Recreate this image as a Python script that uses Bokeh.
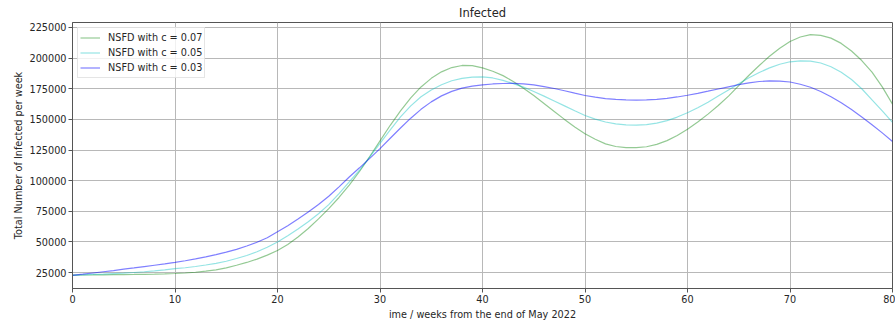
from bokeh.plotting import figure
from bokeh.models import Range1d, Legend, LegendItem, FixedTicker, BasicTickFormatter
from bokeh.embed import file_html
from bokeh.resources import INLINE

weeks = list(range(0, 81))

nsfd_007 = [23000, 23050, 23100, 23200, 23300, 23400, 23500, 23650, 23800, 24000,
            24300, 24700, 25300, 26200, 27300, 28900, 31000, 33300, 36000, 39300,
            43000, 48000, 54000, 61000, 68800, 77200, 86300, 96400, 107500, 119700,
            132500, 145200, 157000, 167500, 176500, 183500, 188800, 192300, 194000, 193800,
            192000, 189300, 185700, 181000, 175500, 169500, 163000, 156500, 150000, 143800,
            138300, 133800, 130000, 127900, 127000, 127000, 127700, 129600, 132700, 136900,
            142000, 147800, 154300, 161300, 169000, 177500, 186000, 194000, 201500, 208000,
            213500, 217200, 219200, 218600, 216300, 212000, 205800, 198000, 188500, 176500,
            162500]

nsfd_005 = [23000, 23200, 23500, 23800, 24200, 24600, 25100, 25700, 26400, 27200,
            28200, 29000, 30000, 31200, 32600, 34300, 36500, 39000, 42000, 45700,
            50000, 55000, 60500, 66500, 73000, 80500, 89500, 99000, 108500, 119500,
            130500, 141500, 152000, 161000, 168500, 174000, 178300, 181500, 183500, 184500,
            184700, 183800, 181800, 179200, 176300, 172800, 169000, 165000, 161000, 157000,
            153200, 150200, 147900, 146300, 145500, 145300, 145700, 146900, 149000, 151900,
            155400, 159500, 164000, 169000, 174000, 179000, 184000, 188300, 192000, 195000,
            197000, 197800, 197500, 196000, 193000, 188500, 182500, 175000, 166000, 157000,
            147500]

nsfd_003 = [22800, 23700, 24700, 25700, 26700, 27800, 28800, 29900, 31000, 32100,
            33300, 34700, 36200, 37900, 39700, 41700, 44000, 46700, 49800, 53500,
            58300, 63300, 68700, 74400, 80600, 87300, 95000, 103000, 110500, 118200,
            126200, 134600, 143000, 151000, 158200, 164300, 169200, 172900, 175500, 177200,
            178200, 178900, 179300, 179400, 179000, 178100, 176800, 175200, 173400, 171400,
            169500, 168100, 167000, 166300, 165900, 165800, 165900, 166400, 167200, 168300,
            169700, 171300, 173000, 174800, 176600, 178300, 179800, 180900, 181400, 181300,
            180500, 178700, 176200, 172800, 168500, 163500, 158000, 152000, 145700, 139000,
            132000]

labels = ["NSFD with c = 0.07", "NSFD with c = 0.05", "NSFD with c = 0.03"]
x_ticks = [0, 10, 20, 30, 40, 50, 60, 70, 80]
y_ticks = [25000, 50000, 75000, 100000, 125000, 150000, 175000, 200000, 225000]

FONT = "DejaVu Sans"
TXT = "#262626"

p = figure(width=895, height=322, x_range=Range1d(0, 80), y_range=Range1d(12050, 229050),
           output_backend="svg", toolbar_location=None, title="Infected",
           min_border_left=72, min_border_right=3, min_border_top=21, min_border_bottom=33)

p.title.align = "center"
p.title.text_font = FONT
p.title.text_font_size = "11.5px"
p.title.text_font_style = "normal"
p.title.text_color = TXT
p.title.standoff = 6
p.title.offset = 0

p.outline_line_color = "#555555"
p.outline_line_width = 1
p.outline_line_alpha = 1

for g in (p.xgrid, p.ygrid):
    g.grid_line_color = "#b8b8b8"
    g.grid_line_width = 1

p.xaxis.ticker = FixedTicker(ticks=x_ticks)
p.yaxis.ticker = FixedTicker(ticks=y_ticks)
p.yaxis.formatter = BasicTickFormatter(use_scientific=False)

for ax in (p.xaxis, p.yaxis):
    ax.axis_line_color = "#555555"
    ax.major_tick_line_color = "#555555"
    ax.major_tick_in = 0
    ax.major_tick_out = 4
    ax.minor_tick_in = 0
    ax.minor_tick_out = 0
    ax.major_label_text_font = FONT
    ax.major_label_text_font_size = "9.7px"
    ax.major_label_text_color = TXT
    ax.axis_label_text_font = FONT
    ax.axis_label_text_font_size = "9.7px"
    ax.axis_label_text_font_style = "normal"
    ax.axis_label_text_color = TXT
    ax.major_label_standoff = 2
    ax.axis_label_standoff = 3

p.xaxis.axis_label = "ime / weeks from the end of May 2022"
p.yaxis.axis_label = "Total Number of Infected per week"

r1 = p.line(weeks, nsfd_007, line_color="green", line_alpha=0.42, line_width=1.2)
r2 = p.line(weeks, nsfd_005, line_color="#00bfbf", line_alpha=0.42, line_width=1.2)
r3 = p.line(weeks, nsfd_003, line_color="blue", line_alpha=0.5, line_width=1.2)

legend = Legend(items=[LegendItem(label=labels[0], renderers=[r1]),
                       LegendItem(label=labels[1], renderers=[r2]),
                       LegendItem(label=labels[2], renderers=[r3])],
                location="top_left")
legend.margin = 5
legend.padding = 2
legend.spacing = 0
legend.glyph_width = 20
legend.glyph_height = 15
legend.label_height = 15
legend.label_standoff = 8
legend.label_text_font = FONT
legend.label_text_font_size = "9.7px"
legend.label_text_color = TXT
legend.border_line_color = "#cccccc"
legend.border_line_width = 1
legend.background_fill_alpha = 0.8
p.add_layout(legend)

open("out.html", "w").write(file_html(p, INLINE))
